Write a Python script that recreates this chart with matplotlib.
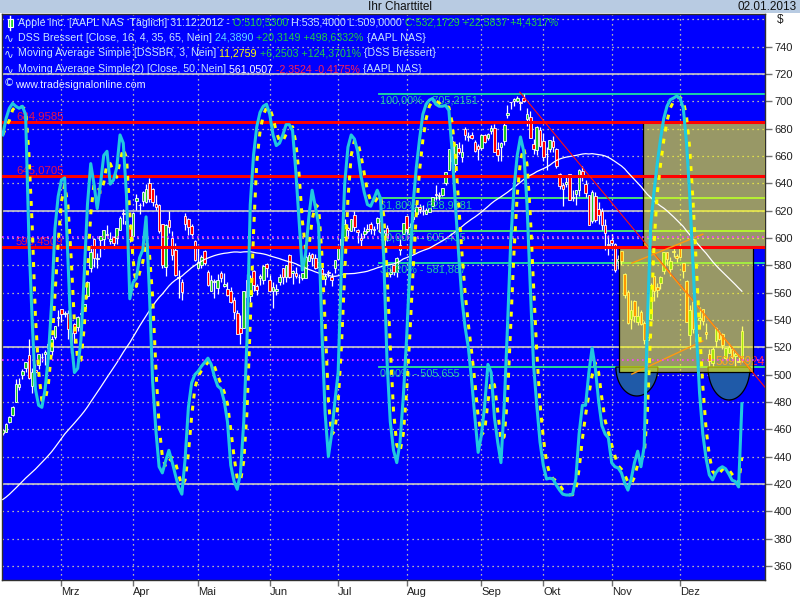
import matplotlib
matplotlib.use('Agg')
import matplotlib.pyplot as plt
import numpy as np
import pandas as pd
from matplotlib.patches import Rectangle, Polygon

plt.rcParams['font.family'] = ['Liberation Sans', 'DejaVu Sans']

W, H = 800, 600

# ---------------- data (AAPL daily, 03.02.2012 - 31.12.2012) ----------------
# 49 closes before the first visible bar (needed for the 50-day average)
prior_closes = [376.51, 366.99, 363.57, 376.12, 373.20, 382.20,
                387.93, 389.70, 393.01, 390.95, 389.09, 390.66, 393.62, 391.84, 388.81, 380.19,
                378.94, 381.02, 382.21, 395.95, 396.45, 398.55, 403.33, 406.53, 402.64, 405.12, 405.00,
                411.23, 413.44, 418.03, 422.40, 421.73, 423.24, 422.55, 421.39, 419.81, 424.70,
                429.11, 427.75, 420.30, 427.41, 420.41, 446.66, 444.63, 447.28, 453.01, 456.48,
                456.19, 455.12]

opens = [457.3, 458.4, 465.3, 470.5, 480.0, 490.9, 499.5, 504.7, 514.3, 491.5, 503.1, 506.9, 513.1, 515.1, 519.7, 517.6, 527.9, 541.6,
         548.2, 544.2, 545.4, 523.7, 536.8, 534.7, 544.2, 549.0, 557.5, 578.1, 599.6, 584.7, 598.4, 599.5, 602.7, 597.8, 600.5, 599.8, 606.2, 618.4, 612.8, 608.8,
         601.8, 627.3, 624.4, 627.0, 626.1, 639.9, 636.2, 625.0, 624.1, 610.1, 578.9, 612.9, 600.2, 591.4, 570.6, 568.0, 615.9, 614.0, 609.0, 597.8,
         578.4, 580.3, 590.5, 575.0, 561.5, 568.0, 563.7, 574.6, 565.0, 562.6, 561.0, 554.5, 545.3, 534.0, 534.5, 569.6, 557.5, 575.9, 564.6, 570.9, 569.2, 580.7,
         569.2, 561.5, 561.3, 567.8, 578.1, 571.6, 587.7, 574.5, 574.5, 571.2, 571.0, 571.0, 583.4, 588.2, 585.4, 579.0, 577.3, 570.3, 575.0, 571.7, 578.0,
         584.7, 594.9, 600.6, 607.1, 605.3, 617.0, 606.0, 600.2, 602.9, 605.1, 610.0, 606.0, 611.3, 612.7, 594.4, 607.4, 573.8, 580.1, 575.0, 590.9, 603.2,
         615.9, 602.8, 613.6, 617.3, 622.8, 619.4, 617.9, 618.7, 623.4, 631.9, 631.3, 631.2, 640.0, 650.0, 670.8, 654.4, 666.1, 659.5, 680.0, 674.0, 675.3, 670.6, 667.3,
         665.8, 675.6, 673.2, 678.1, 680.5, 665.1, 666.9, 670.9, 690.0, 699.4, 699.9, 700.3, 699.2, 702.4, 686.9, 688.3, 668.7, 664.3, 678.7,
         671.2, 661.8, 664.9, 671.3, 665.2, 646.9, 638.7, 639.7, 646.5, 629.6, 632.4, 635.4, 648.9, 639.6, 631.1, 612.4, 631.0, 621.4, 620.0, 609.4, 594.9,
         598.2, 595.9, 583.5, 590.2, 573.8, 560.6, 540.4, 554.2, 538.9, 545.5, 537.5, 525.2, 540.7, 571.9, 564.3, 567.2, 575.9, 589.6, 577.3, 590.2, 586.8,
         593.7, 581.8, 568.9, 528.9, 553.4, 525.0, 539.8, 547.8, 531.2, 514.8, 508.9, 525.0, 531.5, 530.0, 512.5, 516.0, 519.0, 513.5, 510.3, 510.53]

highs = [460.0, 465.0, 469.8, 476.8, 496.8, 497.6, 503.8, 509.6, 526.3, 504.9, 507.8, 514.9, 515.5, 517.8, 522.9, 528.0, 535.4, 547.6,
         548.2, 546.8, 547.5, 533.7, 537.8, 543.0, 547.7, 552.0, 568.2, 594.7, 600.0, 589.2, 601.8, 606.0, 609.7, 604.5, 601.8, 607.2, 616.3, 621.5, 616.6, 610.6,
         618.8, 632.2, 625.9, 634.7, 639.8, 644.0, 636.9, 631.3, 624.7, 610.3, 610.0, 620.0, 604.9, 596.0, 576.7, 570.0, 618.0, 614.7, 610.0, 598.4,
         594.0, 587.4, 591.4, 576.7, 572.8, 570.0, 573.9, 575.9, 574.5, 567.5, 563.8, 556.9, 547.5, 543.4, 561.5, 573.9, 572.8, 576.5, 566.0, 574.0, 580.0, 581.5,
         572.7, 567.5, 566.5, 573.9, 578.2, 580.6, 588.5, 576.6, 578.5, 573.5, 574.6, 587.9, 590.0, 589.3, 588.2, 582.2, 578.9, 574.0, 576.7, 574.1, 584.0,
         593.4, 600.0, 614.0, 608.0, 613.9, 619.9, 606.5, 603.5, 607.9, 610.0, 611.5, 608.6, 615.5, 613.0, 605.9, 609.7, 578.4, 580.1, 585.8, 599.4, 610.9,
         616.4, 610.7, 618.0, 624.9, 625.0, 623.9, 621.7, 621.8, 630.0, 638.6, 634.0, 636.8, 648.2, 665.2, 674.9, 669.0, 669.9, 669.0, 680.9, 677.7, 677.7, 671.6, 668.6,
         675.1, 676.4, 677.0, 682.5, 683.3, 670.1, 669.9, 685.0, 697.0, 699.8, 702.3, 704.0, 700.1, 705.07, 695.1, 692.8, 672.7, 682.2, 681.1,
         676.8, 666.4, 671.9, 674.3, 666.0, 647.6, 640.5, 645.0, 647.0, 635.4, 635.1, 650.3, 652.8, 642.1, 631.8, 635.4, 633.9, 626.6, 622.0, 614.0, 602.0,
         603.0, 596.3, 587.8, 590.7, 574.1, 562.2, 554.9, 554.5, 550.5, 547.5, 539.5, 530.0, 567.0, 571.9, 567.4, 572.0, 590.0, 590.0, 585.8, 594.2, 588.4,
         594.6, 581.8, 569.0, 550.9, 555.0, 538.5, 549.6, 548.0, 537.6, 518.6, 520.6, 534.9, 533.0, 530.2, 519.7, 522.9, 519.5, 516.3, 514.5, 535.40]

lows = [455.6, 458.2, 464.6, 469.7, 480.0, 488.5, 497.1, 502.0, 496.9, 486.6, 500.3, 504.1, 509.1, 507.4, 518.6, 514.2, 525.9, 535.7,
        538.8, 542.5, 526.0, 516.2, 523.3, 532.1, 543.9, 546.5, 555.8, 575.4, 578.6, 578.0, 586.0, 591.9, 601.4, 595.5, 594.4, 595.3, 606.1, 610.3, 607.2, 597.0,
        600.4, 620.4, 617.6, 623.4, 625.3, 626.0, 623.3, 620.5, 603.5, 578.3, 571.9, 603.7, 584.0, 571.9, 556.0, 555.0, 606.0, 602.1, 600.3, 583.0,
        578.0, 578.4, 580.0, 565.0, 561.2, 556.2, 559.1, 567.8, 564.4, 557.6, 552.8, 541.0, 530.1, 522.2, 534.0, 552.6, 553.2, 561.2, 558.6, 565.3, 566.6, 571.5,
        560.5, 548.5, 558.3, 565.5, 566.5, 568.0, 570.6, 566.7, 570.4, 567.3, 569.6, 570.4, 583.1, 579.5, 577.4, 575.4, 570.0, 565.8, 571.7, 564.6, 574.3,
        583.6, 594.3, 599.7, 599.8, 605.0, 605.3, 596.7, 592.7, 600.0, 603.7, 603.0, 602.2, 606.5, 603.7, 588.0, 597.7, 571.3, 573.0, 571.6, 587.2, 602.8,
        603.0, 600.3, 611.6, 616.0, 618.0, 617.1, 617.4, 618.7, 623.3, 628.0, 627.8, 630.6, 638.8, 649.9, 650.3, 648.1, 661.2, 655.6, 671.5, 671.3, 672.6, 662.8, 657.3,
        664.5, 669.6, 671.7, 675.8, 662.6, 656.5, 656.0, 667.9, 687.9, 694.6, 696.4, 699.6, 693.6, 699.4, 682.2, 673.0, 661.2, 660.4, 666.8,
        656.5, 650.0, 662.6, 663.0, 651.3, 636.1, 623.6, 637.0, 628.1, 626.8, 623.9, 631.0, 642.0, 630.0, 609.6, 611.1, 611.7, 610.6, 605.6, 591.0, 587.7,
        594.2, 574.8, 577.6, 580.1, 555.8, 537.4, 533.7, 538.7, 536.3, 536.1, 522.6, 505.75, 539.9, 554.2, 556.6, 562.6, 573.8, 580.1, 572.3, 586.3, 582.7,
        585.5, 571.0, 538.3, 518.6, 530.8, 522.3, 535.4, 536.6, 525.8, 505.8, 501.2, 520.3, 525.5, 518.9, 511.0, 515.6, 511.1, 504.7, 509.1, 509.00]

closes = [459.7, 464.0, 468.8, 476.7, 493.2, 493.4, 502.6, 509.5, 497.7, 502.2, 502.1, 514.9, 513.0, 516.4, 522.4, 525.8, 535.4, 542.4,
          544.5, 545.2, 533.2, 530.3, 530.7, 542.0, 545.2, 552.0, 568.1, 589.6, 585.6, 585.6, 601.1, 606.0, 602.5, 599.3, 596.1, 607.0, 614.5, 617.6, 609.9, 599.6,
          618.6, 629.3, 624.3, 633.7, 636.2, 628.4, 626.2, 622.8, 605.2, 580.1, 609.7, 608.3, 587.4, 573.0, 571.7, 560.3, 610.0, 607.7, 603.0, 584.0,
          582.1, 586.0, 581.8, 565.3, 569.5, 568.2, 569.2, 570.5, 566.7, 558.2, 553.2, 546.1, 530.1, 530.4, 561.3, 557.0, 570.6, 565.3, 562.3, 572.3, 579.2, 577.7,
          561.0, 564.3, 562.8, 571.5, 571.7, 580.3, 571.2, 576.2, 572.2, 571.5, 574.1, 585.8, 587.4, 585.7, 577.7, 582.1, 570.8, 572.0, 574.5, 569.1, 584.0,
          592.5, 599.4, 609.9, 605.9, 613.9, 608.2, 604.4, 598.9, 605.0, 606.9, 606.9, 606.3, 614.3, 604.3, 603.8, 600.9, 575.0, 574.9, 585.2, 595.0, 610.8,
          606.8, 607.8, 615.7, 622.6, 620.9, 619.9, 620.7, 621.7, 630.0, 631.7, 630.8, 636.3, 648.1, 665.2, 656.1, 668.9, 662.6, 663.2, 675.7, 674.8, 673.5, 663.9, 665.2,
          675.0, 670.2, 676.3, 680.4, 662.7, 660.6, 669.8, 683.0, 691.3, 699.8, 701.9, 702.1, 698.7, 700.1, 690.8, 673.5, 665.2, 681.3, 667.1,
          659.4, 661.3, 671.5, 666.8, 652.6, 638.2, 635.9, 640.9, 628.1, 629.7, 634.8, 649.8, 644.6, 632.6, 609.8, 634.0, 613.4, 616.8, 609.5, 604.0, 595.3,
          596.5, 576.8, 584.6, 582.9, 558.0, 537.8, 547.1, 542.8, 542.9, 536.9, 525.6, 527.7, 565.7, 560.9, 561.7, 571.5, 589.5, 584.8, 582.9, 589.4, 585.3,
          586.2, 575.9, 538.8, 547.2, 533.3, 529.8, 541.4, 539.0, 529.7, 509.8, 518.8, 533.9, 526.3, 521.7, 519.3, 520.2, 513.0, 515.1, 509.6, 532.17]

# DSS Bressert (0..100)
dss = [90, 94, 96.5, 97.7, 97, 96.5, 97, 95, 65, 45, 28, 24, 23.5, 28, 36, 49, 67, 75, 79, 79.5,
       60, 40, 32, 33, 40, 56, 73, 83, 78, 72, 78, 85, 86, 78, 79, 82, 90, 88, 75, 50,
       54, 55, 60, 62, 70, 52, 30, 18, 9, 7.5, 10.4, 13, 10.2, 7, 4, 2.3, 11, 23.5, 29.5, 31.5,
       32.3, 33.5, 34.5, 35.5, 34, 31, 28.7, 28, 25, 20, 9.4, 5.5, 3.5, 7.5, 20, 40, 73, 85, 92, 95.5,
       97, 97.5, 95, 90, 87.4, 88, 90, 92.5, 92.5, 91, 81, 69, 57, 61, 70, 76.5, 72.5, 68, 42, 22,
       11.5, 17, 25, 32, 58, 78, 87, 90, 89, 86, 80, 76, 73, 72.6, 74.5, 76.5, 74.5, 60, 35, 20,
       13, 10, 15, 26, 40, 57, 73, 82, 89, 95, 97.5, 98.5, 98.9, 97.5, 97, 97, 97.2, 96, 86, 73,
       61, 50, 43, 38, 30, 21, 12.5, 16.7, 24, 34, 32, 21, 15, 10, 24, 43, 64, 77, 85, 89.5,
       86, 73, 53, 34, 24, 15, 9.4, 6, 6.2, 6, 4.5, 3.3, 2.3, 2.1, 2.1, 2.3, 6, 17, 24, 24,
       32, 38, 33, 25, 19, 17, 16, 10, 9, 8.7, 7.5, 5, 3.3, 6, 10, 12.8, 9, 14, 45, 68,
       76, 83, 89, 94, 97, 98.6, 99, 99.5, 99, 96.5, 88, 75, 58, 42, 27, 17, 11, 7, 5.8, 7.5,
       8.5, 9, 8.5, 7.2, 5.7, 5.4, 4.07, 24.39]

month_labels = ['Mrz', 'Apr', 'Mai', 'Jun', 'Jul', 'Aug', 'Sep', 'Okt', 'Nov', 'Dez']
month_idx = [18, 40, 60, 82, 103, 124, 147, 166, 187, 208]
price_ticks = list(range(360, 741, 20))

red_levels = [684.9585, 645.0705, 593.4509]
red_labels = ['684,9585', '645,0705', '593,4509']
fib_levels = [705.2151, 628.9881, 605.435, 581.887, 505.655]
fib_labels = ['100,00% - 705,2151', '61,80% - 628,9881', '50,00% - 605,435',
              '38,20% - 581,887', '0,00% - 505,655']
fib_colors = ['#20e0a0', '#50f070', '#50f070', '#20e0a0', '#30e890']
gray_levels = [420, 520, 620, 720]
dss_levels = [35, 65]
extra_label = '509,7924'
extra_level = 510.0

# ---------------- figure ----------------
fig = plt.figure(figsize=(8, 6), dpi=100)
fig.patch.set_facecolor('white')

# title bar
fig.add_artist(Rectangle((0, 1 - 13 / H), 1, 13 / H, transform=fig.transFigure,
                         facecolor='#b8cbe2', edgecolor='none', zorder=0))
fig.text(0.5, 1 - 7 / H, 'Ihr Charttitel', ha='center', va='center', fontsize=8.5, color='#101010')
fig.text(797 / W, 1 - 7 / H, '02.01.2013', ha='right', va='center', fontsize=8.5, color='#101010')

ax = fig.add_axes([2 / W, 20 / H, 763 / W, 566 / H])
ax.set_facecolor('#0000ff')
x = np.arange(len(closes))
XL = (-0.25, 234.1)
ax.set_xlim(*XL)
ax.set_ylim(349.76, 763.9)

for s in ax.spines.values():
    s.set_color('#303030')
    s.set_linewidth(1)

# dotted grid
for p in range(360, 761, 20):
    ax.axhline(p, color='#f0f0a0', lw=0.9, ls=(0, (1, 3)), zorder=0.6)
for m in month_idx:
    ax.axvline(m, color='#f0f0a0', lw=0.9, ls=(0, (1, 3)), zorder=0.6)

# horizontal gray lines
for g in gray_levels:
    ax.axhline(g, color='#c8c8c8', lw=1.2, zorder=1)

# fibonacci lines
fib_x0 = 115.5
for lv, lab, c in zip(fib_levels, fib_labels, fib_colors):
    ax.plot([fib_x0, XL[1]], [lv, lv], color=c, lw=1.3, zorder=1.2)
    ax.text(fib_x0 + 0.3, lv - 1.2, lab, color='#20c8a0', fontsize=7.8, va='top', ha='left', zorder=4.5)

# candles
o = np.array(opens); h = np.array(highs); l = np.array(lows); c = np.array(closes)
up = c >= o
ax.vlines(x, l, h, color='white', lw=0.9, zorder=2)
ax.bar(x, c - o, bottom=o, width=0.8, color=np.where(up, '#20c820', '#ff0000'),
       edgecolor='white', linewidth=0.6, zorder=2.1)

# label hidden partly under the overlay
ax.text(XL[1] - 0.2, extra_level, extra_label, color='#ff2050', fontsize=8.5, ha='right',
        va='center', zorder=2.5)

# bowls
def half_ellipse(cx, hw, top, depth):
    t = np.linspace(0, np.pi, 60)
    return np.column_stack([cx + hw * np.cos(t), top - depth * np.sin(t)])

for cx, dep in [(194.75, 21.2), (223.05, 24.1)]:
    ax.add_patch(Polygon(half_ellipse(cx, 6.45, 505.6, dep), closed=True,
                         facecolor='#1f5aa8', edgecolor='black', lw=0.9, zorder=2.6))

# yellow translucent overlay boxes
ax.add_patch(Rectangle((196.6, 593.4509), XL[1] - 196.6, 684.9585 - 593.4509,
                       facecolor='#ffff00', alpha=0.6, edgecolor='none', zorder=3))
ax.add_patch(Rectangle((189.3, 502.3), 230.4 - 189.3, 593.4509 - 502.3,
                       facecolor='#ffff00', alpha=0.6, edgecolor='none', zorder=3))
ax.plot([196.6, 196.6], [593.4509, 684.9585], color='black', lw=0.9, zorder=3.1)
ax.plot([189.3, 189.3, 230.4, 230.4], [593.4509, 502.3, 502.3, 593.4509], color='black', lw=0.9, zorder=3.1)

# red levels
for lv, lab in zip(red_levels, red_labels):
    ax.axhline(lv, color='#ff0000', lw=2.2, zorder=4)
    ax.text(4.05, lv + 4.3, lab, color='#e8104a', fontsize=8.2, va='center', ha='left', zorder=4.5)

# 50-day average
ma50 = pd.Series(prior_closes + closes).rolling(50).mean().iloc[len(prior_closes):].to_numpy()
ax.plot(x, ma50, color='white', lw=0.9, zorder=5)

# trend lines
ax.plot([158.8, XL[1]], [706.7, 490.8], color='#ff1010', lw=0.8, zorder=5)
ax.plot([193.2, 215.0], [581.6, 602.8], color='#ff9a10', lw=1.0, zorder=5)
ax.plot([193.2, 215.0], [500.4, 524.6], color='#ff9a10', lw=1.0, zorder=5)
ax.plot([197.2, 230.1], [596.0, 502.5], color='#ff9a10', lw=1.0, zorder=5)

# DSS oscillator on its own scale
ax2 = ax.twinx()
ax2.set_ylim(-18.65, 119.52)
ax2.set_axis_off()
for lv in dss_levels:
    ax2.axhline(lv, color='#ff40ff', lw=1.2, ls=(0, (1, 2)), zorder=1)
dss_ma = pd.Series(dss).rolling(3, min_periods=1).mean().to_numpy()
ax2.plot(x, dss_ma, color='#ffff00', lw=2.2, ls=(0, (1.6, 2.4)), zorder=3)
ax2.plot(x, dss, color='#20c8e0', lw=2.2, zorder=4)

# price ticks on the right (after twinx, which moves them left)
ax.yaxis.tick_right()
ax.set_yticks(price_ticks)
ax.set_yticklabels([str(v) for v in price_ticks])
ax.tick_params(axis='y', right=True, left=False, labelright=True, labelleft=False,
               length=5, width=1, color='#707070', labelsize=8, labelcolor='#202020', pad=1.5)
ax.set_xticks(month_idx)
ax.set_xticklabels(month_labels)
ax.tick_params(axis='x', length=4, width=1, color='#707070', labelsize=8,
               labelcolor='#202020', pad=1)
for lab in ax.get_xticklabels():
    lab.set_horizontalalignment('left')
fig.text(777 / W, 1 - 20 / H, '$', ha='left', va='center', fontsize=8.5, color='#202020')

# ---------------- legend ----------------
renderer = fig.canvas.get_renderer()
PALE = '#c8e4ff'
GREEN = '#22cc44'

def seg_text(x0, y0, parts, size=7.7):
    xx = x0
    for s, col in parts:
        t = fig.text(xx / W, 1 - y0 / H, s, color=col, fontsize=size, va='center', ha='left')
        bb = t.get_window_extent(renderer=renderer)
        xx += bb.width

seg_text(18, 22.5, [('Apple Inc. [AAPL NAS  Täglich] 31.12.2012 - ', PALE), ('O:510,5300 ', GREEN),
                    ('H:535,4000 L:509,0000 ', PALE), ('C:532,1729 +22,5837 +4,4317%', GREEN)])
seg_text(18, 38, [('DSS Bressert [Close, 16, 4, 35, 65, Nein] ', PALE), ('24,3890 ', '#60d8ff'),
                  ('+20,3149 +498,6332% ', GREEN), ('{AAPL NAS}', PALE)])
seg_text(18, 53.5, [('Moving Average Simple [DSSBR, 3, Nein] ', PALE), ('11,2759 ', '#ffff00'),
                    ('+6,2503 +124,3701% ', GREEN), ('{DSS Bressert}', PALE)])
seg_text(18, 69, [('Moving Average Simple(2) [Close, 50, Nein] ', PALE), ('561,0507 ', 'white'),
                  ('-2,3524 -0,4175% ', '#ff2050'), ('{AAPL NAS}', PALE)])
seg_text(15, 84.5, [('www.tradesignalonline.com', '#e8f0ff')])

# legend icons
fig.add_artist(plt.Line2D([10 / W, 10 / W], [1 - 16 / H, 1 - 30 / H], transform=fig.transFigure,
                          color='white', lw=1))
fig.add_artist(Rectangle((8 / W, 1 - 27 / H), 5 / W, 8 / H, transform=fig.transFigure,
                         facecolor='#20d020', edgecolor='white', lw=0.8))
for yy in [38, 53.5, 69]:
    fig.text(4 / W, 1 - yy / H, '∿', color=PALE, fontsize=8.5, va='center', ha='left',
             family='DejaVu Sans')
fig.text(4 / W, 1 - 83.5 / H, '©', color=PALE, fontsize=7.5, va='center', ha='left',
         family='DejaVu Sans')

fig.savefig('out.png', dpi=100)
